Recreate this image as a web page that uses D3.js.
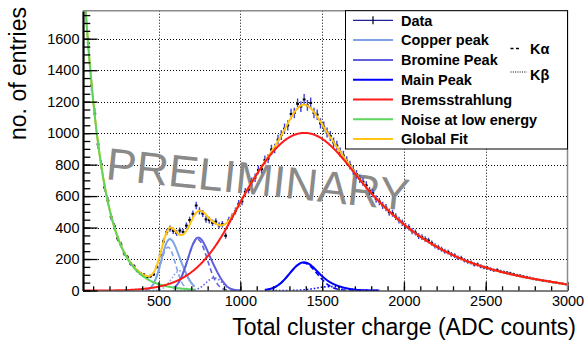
<!DOCTYPE html>
<html>
<head>
<meta charset="utf-8">
<script src="https://cdn.jsdelivr.net/npm/d3@7/dist/d3.min.js"></script>
<style>
body { margin: 0; background: #fff; }
svg { display: block; font-family: "Liberation Sans", Arial, sans-serif; }
</style>
</head>
<body>
<div id="chart"></div>
<script>
// ---- values ----
// histogram, 20 ADC wide bins (centres 50 ... 2990)
var binCentres = d3.range(50, 3000, 20);
var binCounts = [
    1852, 1571, 1302, 1124, 929, 801, 655, 571, 468, 408,
    331, 292, 236, 211, 170, 154, 125, 108, 101, 84,
    90, 102, 150, 226, 312, 372, 393, 379, 366, 381,
    372, 412, 448, 487, 540, 506, 489, 452, 447, 430,
    438, 414, 421, 348, 447, 470, 505, 551, 566, 627,
    641, 692, 717, 766, 771, 829, 838, 896, 902, 958,
    987, 1029, 1049, 1122, 1128, 1186, 1169, 1214, 1176, 1192,
    1128, 1117, 1062, 1041, 1004, 982, 941, 921, 879, 858,
    824, 797, 763, 739, 709, 691, 668, 632, 618, 581,
    566, 541, 527, 498, 491, 469, 447, 431, 409, 401,
    377, 368, 346, 339, 327, 318, 301, 283, 274, 262,
    249, 244, 229, 222, 208, 206, 192, 184, 178, 166,
    165, 154, 147, 144, 136, 129, 130, 121, 117, 113,
    108, 103, 97, 94, 88, 84, 80, 74, 71, 67,
    63, 60, 57, 53, 50, 47, 43, 40
];

// noise at low energy: exponential
var noiseAmp = 2047, noiseSlope = 0.0085, noiseFrom = 38, noiseTo = 720;

// gaussian peaks (K-alpha and K-beta lines)
var peakNames = ["Copper peak", "Bromine Peak", "Main Peak"];
var kAlphaMean = [558, 738, 1385];
var kAlphaSigma = [46, 60, 85];
var kAlphaAmp = [275, 325, 175];
var kBetaMean = [630, 840, 1550];
var kBetaSigma = [50, 50, 85];
var kBetaAmp = [125, 80, 25];
var peakFrom = [420, 590, 1150];
var peakTo = [720, 1000, 1850];

// bremsstrahlung, sampled every 100 ADC from 0 to 3000
var bremsValues = [0, 0, 0, 2, 8, 22, 51, 109, 209, 361, 565, 743, 891, 985, 1012,
    974, 875, 744, 613, 512, 417, 340, 276, 223, 179, 145, 116, 92, 72, 56, 38];

var legendLabels = ["Data", "Copper peak", "Bromine Peak", "Main Peak",
    "Bremsstrahlung", "Noise at low energy", "Global Fit"];
var xTicks = [500, 1000, 1500, 2000, 2500, 3000];
var yTicks = [0, 200, 400, 600, 800, 1000, 1200, 1400, 1600];

// ---- styles ----
var peakColor = ["#7fa3e6", "#5f5fe0", "#0000ff"];
var bremsColor = "#ff1a1a", noiseColor = "#5cd65c", globalColor = "#ffc414";
var font = '"Liberation Sans", Arial, sans-serif';

var width = 585, height = 341;
var plotL = 83, plotR = 567.5, plotT = 10.7, plotB = 290.5;

var svg = d3.select("#chart").append("svg")
    .attr("width", width)
    .attr("height", height);

var x = d3.scaleLinear().domain([38, 3000]).range([plotL, plotR]);
var y = d3.scaleLinear().domain([0, 1778]).range([plotB, plotT]);

function gaus(v, m, s, a) {
    var t = (v - m) / s;
    return a * Math.exp(-0.5 * t * t);
}
var bremsCurve = d3.interpolateBasis(bremsValues);
function brems(v) {
    return bremsCurve(Math.max(0, Math.min(1, v / 3000)));
}
function noise(v) {
    return noiseAmp * Math.exp(-noiseSlope * (v - noiseFrom));
}
function kAlpha(i, v) { return gaus(v, kAlphaMean[i], kAlphaSigma[i], kAlphaAmp[i]); }
function kBeta(i, v) { return gaus(v, kBetaMean[i], kBetaSigma[i], kBetaAmp[i]); }
function peak(i, v) { return kAlpha(i, v) + kBeta(i, v); }
function globalFit(v) {
    var s = noise(v) + brems(v);
    for (let i = 0; i < peakNames.length; ++i) s += peak(i, v);
    return s;
}

svg.append("clipPath").attr("id", "plotClip")
    .append("rect")
    .attr("x", plotL).attr("y", plotT)
    .attr("width", plotR - plotL).attr("height", plotB - plotT);

// grid
var grid = svg.append("g")
    .attr("stroke", "#000")
    .attr("stroke-width", 1)
    .attr("stroke-dasharray", "1,2");
grid.selectAll(".gx")
    .data(xTicks.filter(d => d < 3000))
    .enter().append("line")
    .attr("x1", d => Math.round(x(d)) + 0.5).attr("x2", d => Math.round(x(d)) + 0.5)
    .attr("y1", plotT).attr("y2", plotB);
grid.selectAll(".gy")
    .data(yTicks.filter(d => d > 0))
    .enter().append("line")
    .attr("y1", d => Math.round(y(d)) + 0.5).attr("y2", d => Math.round(y(d)) + 0.5)
    .attr("x1", plotL).attr("x2", plotR);

// watermark
svg.append("text")
    .text("PRELIMINARY")
    .attr("transform", "translate(105,179) rotate(6)")
    .attr("font-family", font)
    .attr("font-size", 45)
    .attr("fill", "#8a8a8a");

var plot = svg.append("g").attr("clip-path", "url(#plotClip)");

// data points with error bars
var pts = plot.append("g");
binCentres.forEach(function (c, i) {
    var n = binCounts[i], e = Math.sqrt(n);
    pts.append("line")
        .attr("x1", x(c)).attr("x2", x(c))
        .attr("y1", y(n - e)).attr("y2", y(n + e))
        .attr("stroke", "#4040d8")
        .attr("stroke-width", 1.4);
    pts.append("rect")
        .attr("x", x(c) - 1.4).attr("y", y(n) - 1)
        .attr("width", 2.8).attr("height", 2)
        .attr("fill", "#000");
});

var line = d3.line()
    .x(d => x(d[0]))
    .y(d => y(d[1]));

function drawFunc(f, from, to, color, dash, w) {
    var pts = d3.range(from, to + 1, 2).map(v => [v, f(v)]);
    plot.append("path")
        .attr("d", line(pts))
        .attr("fill", "none")
        .attr("stroke", color)
        .attr("stroke-width", w || 2)
        .attr("stroke-dasharray", dash || null);
}

drawFunc(globalFit, 38, 3000, globalColor);
for (let i = 0; i < peakNames.length; ++i) {
    drawFunc(v => kAlpha(i, v), peakFrom[i], peakTo[i], peakColor[i], "5,3", 1.6);
    drawFunc(v => kBeta(i, v), peakFrom[i], peakTo[i], peakColor[i], "1.5,2", 1.6);
    drawFunc(v => peak(i, v), peakFrom[i], peakTo[i], peakColor[i]);
}
drawFunc(noise, noiseFrom, noiseTo, noiseColor);
drawFunc(brems, 38, 3000, bremsColor);

// axes
var yMinor = d3.range(0, 1778, 50);
var xMinor = d3.range(100, 3001, 100);

var yAxis = svg.append("g")
    .attr("transform", "translate(" + plotL + ",0)")
    .call(d3.axisLeft(y).tickValues(yTicks).tickFormat(d3.format("d"))
        .tickSize(-14.5).tickSizeOuter(0).tickPadding(3.5));
svg.append("g")
    .attr("transform", "translate(" + plotL + ",0)")
    .call(d3.axisLeft(y).tickValues(yMinor).tickSize(-7.3).tickSizeOuter(0).tickFormat(""))
    .select(".domain").remove();
var xAxis = svg.append("g")
    .attr("transform", "translate(0," + plotB + ")")
    .call(d3.axisBottom(x).tickValues(xTicks).tickFormat(d3.format("d"))
        .tickSize(-8.4).tickSizeOuter(0).tickPadding(5.5));
svg.append("g")
    .attr("transform", "translate(0," + plotB + ")")
    .call(d3.axisBottom(x).tickValues(xMinor).tickSize(-4.2).tickSizeOuter(0).tickFormat(""))
    .select(".domain").remove();

svg.selectAll(".tick line").attr("stroke", "#000").attr("stroke-width", 1.3);
svg.selectAll(".tick text")
    .attr("font-family", font)
    .attr("font-size", 14.5)
    .attr("fill", "#000");
yAxis.select(".domain").attr("stroke-width", 2.2);
xAxis.select(".domain").attr("stroke-width", 1);

// top and right frame
svg.append("path")
    .attr("d", "M" + plotL + "," + plotT + "H" + plotR + "V" + plotB)
    .attr("fill", "none")
    .attr("stroke", "#8a8a8a")
    .attr("stroke-width", 1.5);

// axis titles
svg.append("text")
    .text("Total cluster charge (ADC counts)")
    .attr("x", 576).attr("y", 335)
    .attr("text-anchor", "end")
    .attr("font-family", font)
    .attr("font-size", 23);
svg.append("text")
    .text("no. of entries")
    .attr("transform", "translate(25.5,7) rotate(-90)")
    .attr("text-anchor", "end")
    .attr("font-family", font)
    .attr("font-size", 23);

// legend
var leg = svg.append("g");
leg.append("rect")
    .attr("x", 345.5).attr("y", plotT)
    .attr("width", plotR - 345.5).attr("height", 149 - plotT)
    .attr("fill", "#fff")
    .attr("stroke", "#000")
    .attr("stroke-width", 1);
var legColors = ["#1f1f99", peakColor[0], peakColor[1], peakColor[2], bremsColor, noiseColor, globalColor];
legendLabels.forEach(function (lab, i) {
    var cy = 20.3 + i * 19.8;
    leg.append("line")
        .attr("x1", 353).attr("x2", 393)
        .attr("y1", cy).attr("y2", cy)
        .attr("stroke", legColors[i])
        .attr("stroke-width", i == 0 ? 1.2 : 2);
    if (i == 0) {
        leg.append("line")
            .attr("x1", 373).attr("x2", 373)
            .attr("y1", cy - 4).attr("y2", cy + 4)
            .attr("stroke", "#000")
            .attr("stroke-width", 1.2);
    }
    leg.append("text")
        .text(lab)
        .attr("x", 401).attr("y", cy + 5.2)
        .attr("font-family", font)
        .attr("font-weight", "bold")
        .attr("font-size", 14.5);
});
// line style key
leg.append("line")
    .attr("x1", 510.5).attr("x2", 520).attr("y1", 48.5).attr("y2", 48.5)
    .attr("stroke", "#000").attr("stroke-width", 1.3)
    .attr("stroke-dasharray", "3,2.5");
leg.append("text").text("Kα")
    .attr("x", 530).attr("y", 53.5)
    .attr("font-family", font).attr("font-weight", "bold").attr("font-size", 14.5);
leg.append("line")
    .attr("x1", 510.5).attr("x2", 527).attr("y1", 72).attr("y2", 72)
    .attr("stroke", "#000").attr("stroke-width", 1)
    .attr("stroke-dasharray", "1,1.3");
leg.append("text").text("Kβ")
    .attr("x", 530).attr("y", 80)
    .attr("font-family", font).attr("font-weight", "bold").attr("font-size", 14.5);
</script>
</body>
</html>
